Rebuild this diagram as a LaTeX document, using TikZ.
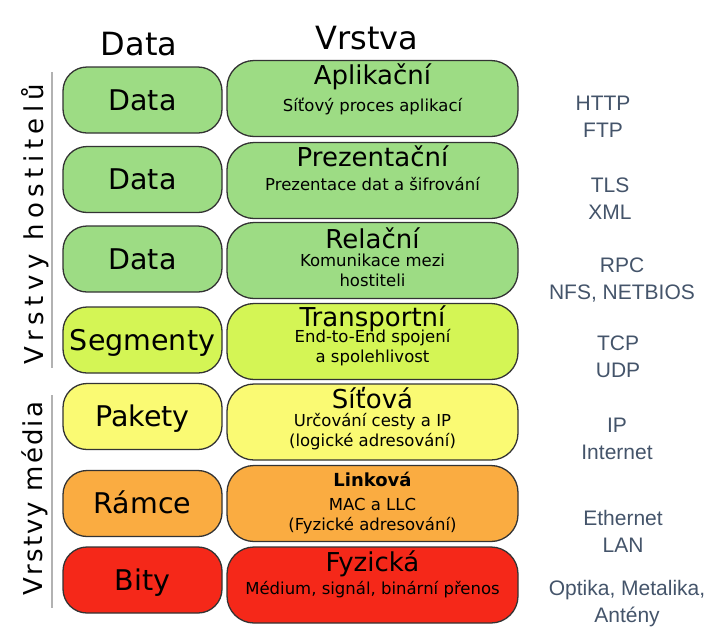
\documentclass[tikz,border=0pt]{standalone}
\usepackage{fontspec}
\setmainfont{DejaVu Sans}
\newfontfamily\protofont{Liberation Sans}
\usepackage{tikz}
\usetikzlibrary{positioning}
\definecolor{ogreen}{RGB}{157,220,132}
\definecolor{olime}{RGB}{212,245,85}
\definecolor{oyellow}{RGB}{250,250,115}
\definecolor{oorange}{RGB}{250,172,65}
\definecolor{ored}{RGB}{245,40,25}
\definecolor{oslate}{RGB}{68,84,106}

\begin{document}
\begin{tikzpicture}[
  x=1pt, y=-1pt,
  dbox/.style={draw=black!80, line width=1.3pt, rounded corners=24pt, minimum width=159pt,
               minimum height=66pt, inner sep=0pt, font=\fontsize{28.5}{30}\selectfont,
               text height=20pt, text depth=0pt},
  lbox/.style={draw=black!80, line width=1.3pt, rounded corners=27pt, minimum width=291pt,
               minimum height=76pt, inner sep=0pt},
  ltitle/.style={anchor=base, inner sep=0pt, font=\fontsize{26}{28}\selectfont},
  lsub/.style={anchor=base, inner sep=0pt, align=center, font=\fontsize{16.5}{20}\selectfont},
  proto/.style={align=center, inner sep=0pt, text=oslate, font=\protofont\fontsize{21}{27}\selectfont},
  hdr/.style={anchor=base, inner sep=0pt, font=\fontsize{32}{34}\selectfont},
  vlab/.style={rotate=90, inner sep=0pt, font=\fontsize{26}{28}\selectfont},
  sepline/.style={draw=black!30, line width=2.5pt},
]
  \useasboundingbox (0,0) rectangle (719,643);
  % headers
  \node[hdr] (hdata) at (139,55) {Data};
  \node[hdr] (hlayer) at (367,49) {Vrstva};
  % side labels
  \node[vlab] (vhost) at (35,224) {\addfontfeature{LetterSpace=21}Vrstvy hostitelů};
  \node[vlab] (vmedia) at (35,498.5) {\addfontfeature{LetterSpace=8}Vrstvy média};
  \draw[sepline] (52,72) -- (52,368);
  \draw[sepline] (52,395) -- (52,608);
  % data units
  \node[dbox, fill=ogreen] (d1) at (142.5,100) {Data};
  \node[dbox, fill=ogreen] (d2) at (142.5,179.5) {Data};
  \node[dbox, fill=ogreen] (d3) at (142.5,259) {Data};
  \node[dbox, fill=olime] (d4) at (142.5,340) {Segmenty};
  \node[dbox, fill=oyellow] (d5) at (142.5,416.5) {Pakety};
  \node[dbox, fill=oorange] (d6) at (142.5,503.5) {Rámce};
  \node[dbox, fill=ored] (d7) at (142.5,580) {Bity};
  % layers (two-line notes sit on their last baseline)
  \node[lbox, fill=ogreen] (l1) at (372.5,98.5) {};
  \node[ltitle] (t1) at ([yshift=-25pt]l1.north) {Aplikační};
  \node[lsub] (s1) at ([yshift=-52pt]l1.north) {Síťový proces aplikací};
  \node[lbox, fill=ogreen] (l2) at (372.5,180.5) {};
  \node[ltitle] (t2) at ([yshift=-25pt]l2.north) {Prezentační};
  \node[lsub] (s2) at ([yshift=-49pt]l2.north) {Prezentace dat a šifrování};
  \node[lbox, fill=ogreen] (l3) at (372.5,260.5) {};
  \node[ltitle] (t3) at ([yshift=-27pt]l3.north) {Relační};
  \node[lsub] (s3) at ([yshift=-65pt]l3.north) {Komunikace mezi\\hostiteli};
  \node[lbox, fill=olime] (l4) at (372.5,341.5) {};
  \node[ltitle] (t4) at ([yshift=-24pt]l4.north) {Transportní};
  \node[lsub] (s4) at ([yshift=-60pt]l4.north) {End-to-End spojení\\a spolehlivost};
  \node[lbox, fill=oyellow] (l5) at (372.5,422) {};
  \node[ltitle] (t5) at ([yshift=-25pt]l5.north) {Síťová};
  \node[lsub] (s5) at ([yshift=-63pt]l5.north) {Určování cesty a IP\\(logické adresování)};
  \node[lbox, fill=oorange] (l6) at (372.5,503.5) {};
  \node[ltitle, font=\fontsize{18}{20}\selectfont\bfseries] (t6) at ([yshift=-22pt]l6.north) {Linková};
  \node[lsub] (s6) at ([yshift=-66pt]l6.north) {MAC a LLC\\(Fyzické adresování)};
  \node[lbox, fill=ored] (l7) at (372.5,585) {};
  \node[ltitle] (t7) at ([yshift=-25pt]l7.north) {Fyzická};
  \node[lsub] (s7) at ([yshift=-48pt]l7.north) {Médium, signál, binární přenos};
  % protocols
  \node[proto] (p1) at (603,116.5) {HTTP\\FTP};
  \node[proto] (p2) at (610,199) {TLS\\XML};
  \node[proto] (p3) at (622,280.5) {RPC\\NFS, NETBIOS};
  \node[proto] (p4) at (618,356.5) {TCP\\UDP};
  \node[proto] (p5) at (617,438.5) {IP\\Internet};
  \node[proto] (p6) at (623,531.5) {Ethernet\\LAN};
  \node[proto] (p7) at (627,603.5) {Optika, Metalika,\\Antény};
\end{tikzpicture}
\end{document}
